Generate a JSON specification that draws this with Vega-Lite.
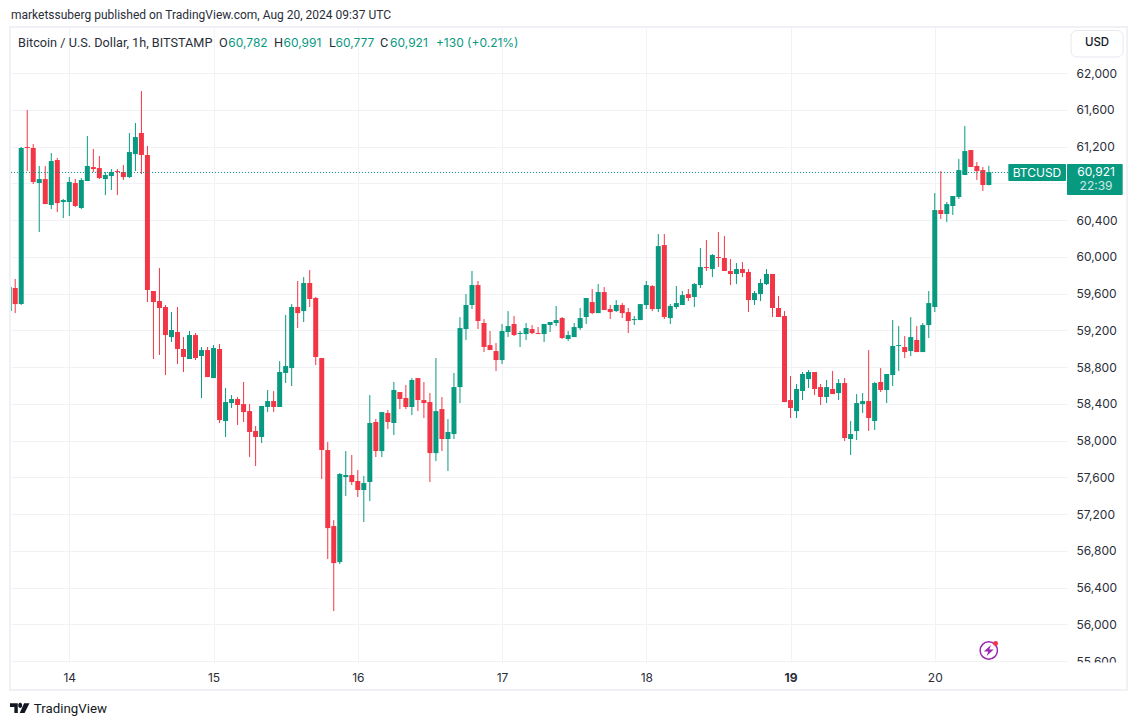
{
  "$schema": "https://vega.github.io/schema/vega-lite/v6.json",
  "width": 1056,
  "height": 634,
  "autosize": "none",
  "padding": {"left": 11, "top": 28, "right": 70, "bottom": 64},
  "background": "white",
  "title": {
    "text": "marketssuberg published on TradingView.com, Aug 20, 2024 09:37 UTC",
    "anchor": "start",
    "frame": "group",
    "offset": 4,
    "font": "Roboto",
    "fontSize": 12,
    "fontWeight": "normal",
    "color": "#2a2e39"
  },
  "config": {
    "font": "Inter",
    "view": {"stroke": null},
    "axis": {"labelFont": "Inter", "labelFontSize": 12, "labelColor": "#2a2e39", "gridColor": "#f1f2f5", "gridWidth": 1, "domain": false, "ticks": false, "title": null}
  },
  "datasets": {
    "candles": [
      {"t":"2024-08-13T14:00:00Z","o":59410,"h":59693,"l":59399,"c":59671},
      {"t":"2024-08-13T15:00:00Z","o":59661,"h":59759,"l":59388,"c":59486},
      {"t":"2024-08-13T16:00:00Z","o":59486,"h":61195,"l":59476,"c":61184},
      {"t":"2024-08-13T17:00:00Z","o":61195,"h":61597,"l":60933,"c":61184},
      {"t":"2024-08-13T18:00:00Z","o":61184,"h":61227,"l":60792,"c":60814},
      {"t":"2024-08-13T19:00:00Z","o":60803,"h":60988,"l":60270,"c":60846},
      {"t":"2024-08-13T20:00:00Z","o":60846,"h":60988,"l":60574,"c":60574},
      {"t":"2024-08-13T21:00:00Z","o":60564,"h":61129,"l":60520,"c":61042},
      {"t":"2024-08-13T22:00:00Z","o":61053,"h":61075,"l":60487,"c":60585},
      {"t":"2024-08-13T23:00:00Z","o":60596,"h":60629,"l":60422,"c":60618},
      {"t":"2024-08-14T00:00:00Z","o":60596,"h":60868,"l":60444,"c":60814},
      {"t":"2024-08-14T01:00:00Z","o":60803,"h":60846,"l":60542,"c":60553},
      {"t":"2024-08-14T02:00:00Z","o":60531,"h":60857,"l":60520,"c":60836},
      {"t":"2024-08-14T03:00:00Z","o":60825,"h":61314,"l":60825,"c":60988},
      {"t":"2024-08-14T04:00:00Z","o":60977,"h":61173,"l":60923,"c":60955},
      {"t":"2024-08-14T05:00:00Z","o":60966,"h":61097,"l":60846,"c":60857},
      {"t":"2024-08-14T06:00:00Z","o":60846,"h":60923,"l":60672,"c":60890},
      {"t":"2024-08-14T07:00:00Z","o":60879,"h":60955,"l":60727,"c":60923},
      {"t":"2024-08-14T08:00:00Z","o":60933,"h":60955,"l":60672,"c":60923},
      {"t":"2024-08-14T09:00:00Z","o":60923,"h":60999,"l":60836,"c":60868},
      {"t":"2024-08-14T10:00:00Z","o":60868,"h":61347,"l":60857,"c":61140},
      {"t":"2024-08-14T11:00:00Z","o":61118,"h":61456,"l":60933,"c":61303},
      {"t":"2024-08-14T12:00:00Z","o":61347,"h":61804,"l":60901,"c":61108},
      {"t":"2024-08-14T13:00:00Z","o":61108,"h":61206,"l":59508,"c":59639},
      {"t":"2024-08-14T14:00:00Z","o":59628,"h":59628,"l":58888,"c":59508},
      {"t":"2024-08-14T15:00:00Z","o":59519,"h":59878,"l":58932,"c":59443},
      {"t":"2024-08-14T16:00:00Z","o":59454,"h":59476,"l":58714,"c":59149},
      {"t":"2024-08-14T17:00:00Z","o":59127,"h":59399,"l":59073,"c":59204},
      {"t":"2024-08-14T18:00:00Z","o":59182,"h":59454,"l":58834,"c":58997},
      {"t":"2024-08-14T19:00:00Z","o":58997,"h":59127,"l":58747,"c":58910},
      {"t":"2024-08-14T20:00:00Z","o":58888,"h":59193,"l":58888,"c":59149},
      {"t":"2024-08-14T21:00:00Z","o":59149,"h":59171,"l":58877,"c":58899},
      {"t":"2024-08-14T22:00:00Z","o":58921,"h":59019,"l":58464,"c":58986},
      {"t":"2024-08-14T23:00:00Z","o":58986,"h":59019,"l":58692,"c":58692},
      {"t":"2024-08-15T00:00:00Z","o":58681,"h":59040,"l":58681,"c":59008},
      {"t":"2024-08-15T01:00:00Z","o":58997,"h":59051,"l":58192,"c":58224},
      {"t":"2024-08-15T02:00:00Z","o":58214,"h":58573,"l":58040,"c":58420},
      {"t":"2024-08-15T03:00:00Z","o":58409,"h":58496,"l":58355,"c":58453},
      {"t":"2024-08-15T04:00:00Z","o":58453,"h":58475,"l":58170,"c":58388},
      {"t":"2024-08-15T05:00:00Z","o":58398,"h":58638,"l":58203,"c":58311},
      {"t":"2024-08-15T06:00:00Z","o":58322,"h":58398,"l":57822,"c":58094},
      {"t":"2024-08-15T07:00:00Z","o":58105,"h":58159,"l":57724,"c":58040},
      {"t":"2024-08-15T08:00:00Z","o":58040,"h":58377,"l":57974,"c":58377},
      {"t":"2024-08-15T09:00:00Z","o":58366,"h":58551,"l":58311,"c":58431},
      {"t":"2024-08-15T10:00:00Z","o":58431,"h":58540,"l":58311,"c":58366},
      {"t":"2024-08-15T11:00:00Z","o":58366,"h":58866,"l":58366,"c":58747},
      {"t":"2024-08-15T12:00:00Z","o":58736,"h":59367,"l":58627,"c":58812},
      {"t":"2024-08-15T13:00:00Z","o":58790,"h":59486,"l":58594,"c":59454},
      {"t":"2024-08-15T14:00:00Z","o":59454,"h":59737,"l":59225,"c":59388},
      {"t":"2024-08-15T15:00:00Z","o":59410,"h":59780,"l":59291,"c":59715},
      {"t":"2024-08-15T16:00:00Z","o":59715,"h":59856,"l":59454,"c":59541},
      {"t":"2024-08-15T17:00:00Z","o":59552,"h":59563,"l":58823,"c":58910},
      {"t":"2024-08-15T18:00:00Z","o":58899,"h":58899,"l":57582,"c":57898},
      {"t":"2024-08-15T19:00:00Z","o":57898,"h":57985,"l":56712,"c":57049},
      {"t":"2024-08-15T20:00:00Z","o":57071,"h":57136,"l":56146,"c":56668},
      {"t":"2024-08-15T21:00:00Z","o":56679,"h":57648,"l":56658,"c":57637},
      {"t":"2024-08-15T22:00:00Z","o":57604,"h":57887,"l":57398,"c":57626},
      {"t":"2024-08-15T23:00:00Z","o":57626,"h":57844,"l":57517,"c":57550},
      {"t":"2024-08-16T00:00:00Z","o":57561,"h":57680,"l":57387,"c":57463},
      {"t":"2024-08-16T01:00:00Z","o":57463,"h":57615,"l":57115,"c":57539},
      {"t":"2024-08-16T02:00:00Z","o":57550,"h":58496,"l":57343,"c":58192},
      {"t":"2024-08-16T03:00:00Z","o":58203,"h":58235,"l":57822,"c":57887},
      {"t":"2024-08-16T04:00:00Z","o":57887,"h":58311,"l":57822,"c":58311},
      {"t":"2024-08-16T05:00:00Z","o":58301,"h":58333,"l":58127,"c":58203},
      {"t":"2024-08-16T06:00:00Z","o":58192,"h":58638,"l":58061,"c":58551},
      {"t":"2024-08-16T07:00:00Z","o":58529,"h":58529,"l":58344,"c":58453},
      {"t":"2024-08-16T08:00:00Z","o":58464,"h":58605,"l":58344,"c":58366},
      {"t":"2024-08-16T09:00:00Z","o":58366,"h":58681,"l":58279,"c":58660},
      {"t":"2024-08-16T10:00:00Z","o":58681,"h":58681,"l":58322,"c":58442},
      {"t":"2024-08-16T11:00:00Z","o":58442,"h":58638,"l":58246,"c":58409},
      {"t":"2024-08-16T12:00:00Z","o":58420,"h":58518,"l":57550,"c":57865},
      {"t":"2024-08-16T13:00:00Z","o":57865,"h":58899,"l":57778,"c":58322},
      {"t":"2024-08-16T14:00:00Z","o":58344,"h":58475,"l":57887,"c":58018},
      {"t":"2024-08-16T15:00:00Z","o":58018,"h":58235,"l":57670,"c":58094},
      {"t":"2024-08-16T16:00:00Z","o":58072,"h":58736,"l":58018,"c":58583},
      {"t":"2024-08-16T17:00:00Z","o":58583,"h":59345,"l":58409,"c":59225},
      {"t":"2024-08-16T18:00:00Z","o":59214,"h":59595,"l":59095,"c":59476},
      {"t":"2024-08-16T19:00:00Z","o":59476,"h":59846,"l":59432,"c":59693},
      {"t":"2024-08-16T20:00:00Z","o":59693,"h":59737,"l":59214,"c":59302},
      {"t":"2024-08-16T21:00:00Z","o":59280,"h":59323,"l":58964,"c":59019},
      {"t":"2024-08-16T22:00:00Z","o":59040,"h":59193,"l":58986,"c":58986},
      {"t":"2024-08-16T23:00:00Z","o":58975,"h":59062,"l":58758,"c":58877},
      {"t":"2024-08-17T00:00:00Z","o":58877,"h":59269,"l":58834,"c":59193},
      {"t":"2024-08-17T01:00:00Z","o":59182,"h":59410,"l":59127,"c":59247},
      {"t":"2024-08-17T02:00:00Z","o":59269,"h":59356,"l":59138,"c":59149},
      {"t":"2024-08-17T03:00:00Z","o":59160,"h":59193,"l":59019,"c":59171},
      {"t":"2024-08-17T04:00:00Z","o":59160,"h":59280,"l":59095,"c":59225},
      {"t":"2024-08-17T05:00:00Z","o":59214,"h":59258,"l":59160,"c":59171},
      {"t":"2024-08-17T06:00:00Z","o":59171,"h":59236,"l":59160,"c":59160},
      {"t":"2024-08-17T07:00:00Z","o":59160,"h":59269,"l":59073,"c":59269},
      {"t":"2024-08-17T08:00:00Z","o":59258,"h":59291,"l":59182,"c":59291},
      {"t":"2024-08-17T09:00:00Z","o":59280,"h":59465,"l":59247,"c":59312},
      {"t":"2024-08-17T10:00:00Z","o":59334,"h":59345,"l":59106,"c":59117},
      {"t":"2024-08-17T11:00:00Z","o":59106,"h":59193,"l":59084,"c":59149},
      {"t":"2024-08-17T12:00:00Z","o":59127,"h":59280,"l":59127,"c":59236},
      {"t":"2024-08-17T13:00:00Z","o":59225,"h":59443,"l":59204,"c":59334},
      {"t":"2024-08-17T14:00:00Z","o":59345,"h":59552,"l":59269,"c":59552},
      {"t":"2024-08-17T15:00:00Z","o":59508,"h":59650,"l":59378,"c":59388},
      {"t":"2024-08-17T16:00:00Z","o":59388,"h":59704,"l":59388,"c":59617},
      {"t":"2024-08-17T17:00:00Z","o":59617,"h":59671,"l":59421,"c":59421},
      {"t":"2024-08-17T18:00:00Z","o":59432,"h":59476,"l":59323,"c":59399},
      {"t":"2024-08-17T19:00:00Z","o":59410,"h":59530,"l":59399,"c":59476},
      {"t":"2024-08-17T20:00:00Z","o":59476,"h":59497,"l":59334,"c":59388},
      {"t":"2024-08-17T21:00:00Z","o":59399,"h":59443,"l":59171,"c":59302},
      {"t":"2024-08-17T22:00:00Z","o":59312,"h":59356,"l":59258,"c":59323},
      {"t":"2024-08-17T23:00:00Z","o":59312,"h":59486,"l":59312,"c":59486},
      {"t":"2024-08-18T00:00:00Z","o":59476,"h":59737,"l":59432,"c":59693},
      {"t":"2024-08-18T01:00:00Z","o":59682,"h":59693,"l":59410,"c":59432},
      {"t":"2024-08-18T02:00:00Z","o":59432,"h":60248,"l":59399,"c":60117},
      {"t":"2024-08-18T03:00:00Z","o":60128,"h":60248,"l":59323,"c":59345},
      {"t":"2024-08-18T04:00:00Z","o":59334,"h":59486,"l":59269,"c":59465},
      {"t":"2024-08-18T05:00:00Z","o":59454,"h":59682,"l":59432,"c":59497},
      {"t":"2024-08-18T06:00:00Z","o":59476,"h":59628,"l":59476,"c":59584},
      {"t":"2024-08-18T07:00:00Z","o":59595,"h":59650,"l":59519,"c":59552},
      {"t":"2024-08-18T08:00:00Z","o":59563,"h":59715,"l":59454,"c":59704},
      {"t":"2024-08-18T09:00:00Z","o":59693,"h":60096,"l":59661,"c":59889},
      {"t":"2024-08-18T10:00:00Z","o":59889,"h":60183,"l":59846,"c":59878},
      {"t":"2024-08-18T11:00:00Z","o":59867,"h":60030,"l":59780,"c":60020},
      {"t":"2024-08-18T12:00:00Z","o":59998,"h":60270,"l":59889,"c":59987},
      {"t":"2024-08-18T13:00:00Z","o":59987,"h":60226,"l":59846,"c":59846},
      {"t":"2024-08-18T14:00:00Z","o":59846,"h":59976,"l":59693,"c":59813},
      {"t":"2024-08-18T15:00:00Z","o":59813,"h":59933,"l":59704,"c":59867},
      {"t":"2024-08-18T16:00:00Z","o":59867,"h":59943,"l":59780,"c":59824},
      {"t":"2024-08-18T17:00:00Z","o":59835,"h":59867,"l":59399,"c":59530},
      {"t":"2024-08-18T18:00:00Z","o":59530,"h":59628,"l":59476,"c":59606},
      {"t":"2024-08-18T19:00:00Z","o":59595,"h":59759,"l":59519,"c":59715},
      {"t":"2024-08-18T20:00:00Z","o":59704,"h":59867,"l":59693,"c":59813},
      {"t":"2024-08-18T21:00:00Z","o":59813,"h":59813,"l":59345,"c":59443},
      {"t":"2024-08-18T22:00:00Z","o":59443,"h":59574,"l":59345,"c":59345},
      {"t":"2024-08-18T23:00:00Z","o":59356,"h":59410,"l":58420,"c":58420},
      {"t":"2024-08-19T00:00:00Z","o":58442,"h":58703,"l":58246,"c":58355},
      {"t":"2024-08-19T01:00:00Z","o":58322,"h":58616,"l":58246,"c":58562},
      {"t":"2024-08-19T02:00:00Z","o":58540,"h":58747,"l":58442,"c":58725},
      {"t":"2024-08-19T03:00:00Z","o":58670,"h":58768,"l":58573,"c":58747},
      {"t":"2024-08-19T04:00:00Z","o":58747,"h":58747,"l":58496,"c":58562},
      {"t":"2024-08-19T05:00:00Z","o":58583,"h":58616,"l":58388,"c":58475},
      {"t":"2024-08-19T06:00:00Z","o":58475,"h":58660,"l":58409,"c":58583},
      {"t":"2024-08-19T07:00:00Z","o":58562,"h":58758,"l":58507,"c":58507},
      {"t":"2024-08-19T08:00:00Z","o":58518,"h":58670,"l":58442,"c":58627},
      {"t":"2024-08-19T09:00:00Z","o":58627,"h":58681,"l":57996,"c":58029},
      {"t":"2024-08-19T10:00:00Z","o":58018,"h":58214,"l":57844,"c":58072},
      {"t":"2024-08-19T11:00:00Z","o":58105,"h":58507,"l":58007,"c":58409},
      {"t":"2024-08-19T12:00:00Z","o":58398,"h":58518,"l":58301,"c":58431},
      {"t":"2024-08-19T13:00:00Z","o":58431,"h":58986,"l":58105,"c":58246},
      {"t":"2024-08-19T14:00:00Z","o":58214,"h":58638,"l":58116,"c":58627},
      {"t":"2024-08-19T15:00:00Z","o":58638,"h":58790,"l":58529,"c":58551},
      {"t":"2024-08-19T16:00:00Z","o":58551,"h":58725,"l":58409,"c":58725},
      {"t":"2024-08-19T17:00:00Z","o":58714,"h":59312,"l":58594,"c":59030},
      {"t":"2024-08-19T18:00:00Z","o":59030,"h":59247,"l":58758,"c":59040},
      {"t":"2024-08-19T19:00:00Z","o":59019,"h":59138,"l":58899,"c":58964},
      {"t":"2024-08-19T20:00:00Z","o":58975,"h":59345,"l":58921,"c":59127},
      {"t":"2024-08-19T21:00:00Z","o":59095,"h":59247,"l":58964,"c":58964},
      {"t":"2024-08-19T22:00:00Z","o":58964,"h":59280,"l":58964,"c":59258},
      {"t":"2024-08-19T23:00:00Z","o":59258,"h":59628,"l":59117,"c":59497},
      {"t":"2024-08-20T00:00:00Z","o":59454,"h":60694,"l":59399,"c":60509},
      {"t":"2024-08-20T01:00:00Z","o":60509,"h":60933,"l":60411,"c":60466},
      {"t":"2024-08-20T02:00:00Z","o":60466,"h":60596,"l":60379,"c":60574},
      {"t":"2024-08-20T03:00:00Z","o":60553,"h":60662,"l":60455,"c":60662},
      {"t":"2024-08-20T04:00:00Z","o":60651,"h":61064,"l":60629,"c":60944},
      {"t":"2024-08-20T05:00:00Z","o":60890,"h":61423,"l":60890,"c":61151},
      {"t":"2024-08-20T06:00:00Z","o":61162,"h":61162,"l":60977,"c":60977},
      {"t":"2024-08-20T07:00:00Z","o":60988,"h":61031,"l":60836,"c":60933},
      {"t":"2024-08-20T08:00:00Z","o":60944,"h":60977,"l":60716,"c":60781},
      {"t":"2024-08-20T09:00:00Z","o":60782,"h":60991,"l":60777,"c":60921}
    ]
  },
  "encoding": {
    "x": {
      "field": "t",
      "type": "temporal",
      "scale": {"type": "utc", "domain": ["2024-08-13T14:18:00Z", "2024-08-20T22:00:00Z"], "nice": false, "padding": 0},
      "axis": {
        "orient": "bottom",
        "grid": true,
        "tickCount": {"interval": "day", "step": 1},
        "format": "%-d",
        "labelPadding": 10,
        "labelFlush": false,
        "labelOverlap": false,
        "labelFontWeight": {"condition": {"test": "utcdate(datum.value) == 19", "value": "bold"}, "value": "normal"}
      }
    }
  },
  "layer": [
    {
      "data": {"values": [{"t": "2024-08-13T14:08:00Z", "t2": "2024-08-21T08:00:00Z", "p": 62500, "p2": 55287}]},
      "mark": {"type": "rect", "fillOpacity": 0, "stroke": "#eff1f6", "strokeWidth": 2, "clip": false},
      "encoding": {
        "x2": {"field": "t2"},
        "y": {
          "field": "p",
          "type": "quantitative",
          "scale": {"domain": [55592, 62489.6], "nice": false, "zero": false},
          "axis": {
            "orient": "right",
            "grid": true,
            "tickCount": 20,
            "values": [55600, 56000, 56400, 56800, 57200, 57600, 58000, 58400, 58800, 59200, 59600, 60000, 60400, 60800, 61200, 61600, 62000],
            "format": ",.0f",
            "labelOverlap": false,
            "labelFlush": false,
            "labelPadding": 9
          }
        },
        "y2": {"field": "p2"}
      }
    },
    {
      "data": {"name": "candles"},
      "mark": {"type": "rule", "strokeWidth": 1, "clip": true},
      "encoding": {
        "y": {"field": "h", "type": "quantitative"},
        "y2": {"field": "l"},
        "color": {"condition": {"test": "datum.c >= datum.o", "value": "#089981"}, "value": "#f23645"}
      }
    },
    {
      "data": {"name": "candles"},
      "mark": {"type": "bar", "size": 5, "clip": true},
      "encoding": {
        "y": {"field": "o", "type": "quantitative"},
        "y2": {"field": "c"},
        "color": {"condition": {"test": "datum.c >= datum.o", "value": "#089981"}, "value": "#f23645"}
      }
    },
    {
      "data": {"values": [{"t": "2024-08-13T14:18:00Z", "t2": "2024-08-20T12:14:00Z", "p": 60918}]},
      "mark": {"type": "rule", "color": "#089981", "strokeWidth": 1, "strokeDash": [1, 2]},
      "encoding": {
        "x2": {"field": "t2"},
        "y": {"field": "p", "type": "quantitative"}
      }
    },
    {
      "data": {"values": [{"t": "2024-08-20T22:00:00Z", "t2": "2024-08-21T07:30:00Z", "p": 55586, "p2": 55400}]},
      "mark": {"type": "rect", "color": "white", "clip": false},
      "encoding": {
        "x2": {"field": "t2"},
        "y": {"field": "p", "type": "quantitative"},
        "y2": {"field": "p2"}
      }
    },
    {
      "data": {"values": [
        {"t": "2024-08-20T12:14:00Z", "t2": "2024-08-20T21:50:00Z", "p": 61010, "p2": 60825},
        {"t": "2024-08-20T22:00:00Z", "t2": "2024-08-21T07:16:00Z", "p": 61010, "p2": 60673}
      ]},
      "mark": {"type": "rect", "color": "#089981", "cornerRadius": 1, "clip": false},
      "encoding": {
        "x2": {"field": "t2"},
        "y": {"field": "p", "type": "quantitative"},
        "y2": {"field": "p2"}
      }
    },
    {
      "data": {"values": [{"t": "2024-08-20T22:40:00Z", "t2": "2024-08-21T07:20:00Z", "p": 62462, "p2": 62174}]},
      "mark": {"type": "rect", "fill": "white", "stroke": "#e6e8ee", "strokeWidth": 1, "cornerRadius": 6, "clip": false},
      "encoding": {
        "x2": {"field": "t2"},
        "y": {"field": "p", "type": "quantitative"},
        "y2": {"field": "p2"}
      }
    },
    {
      "data": {"values": [
        {"t": "2024-08-13T15:28:00Z", "p": 62326, "label": "Bitcoin / U.S. Dollar, 1h, BITSTAMP"},
        {"t": "2024-08-15T00:54:00Z", "p": 62326, "label": "O"},
        {"t": "2024-08-15T10:04:00Z", "p": 62326, "label": "H"},
        {"t": "2024-08-15T19:13:00Z", "p": 62326, "label": "L"},
        {"t": "2024-08-16T03:42:00Z", "p": 62326, "label": "C"}
      ]},
      "mark": {"type": "text", "align": "left", "baseline": "middle", "font": "Roboto", "fontSize": 12.7, "color": "#2a2e39", "clip": false},
      "encoding": {
        "y": {"field": "p", "type": "quantitative"},
        "text": {"field": "label"}
      }
    },
    {
      "data": {"values": [
        {"t": "2024-08-15T02:27:00Z", "p": 62326, "label": "60,782"},
        {"t": "2024-08-15T11:38:00Z", "p": 62326, "label": "60,991"},
        {"t": "2024-08-15T20:18:00Z", "p": 62326, "label": "60,777"},
        {"t": "2024-08-16T05:22:00Z", "p": 62326, "label": "60,921"},
        {"t": "2024-08-16T13:00:00Z", "p": 62326, "label": "+130 (+0.21%)"}
      ]},
      "mark": {"type": "text", "align": "left", "baseline": "middle", "fontSize": 12, "color": "#089981", "clip": false},
      "encoding": {
        "y": {"field": "p", "type": "quantitative"},
        "text": {"field": "label"}
      }
    },
    {
      "data": {"values": [{"t": "2024-08-21T03:00:00Z", "p": 62321, "label": "USD"}]},
      "mark": {"type": "text", "align": "center", "baseline": "middle", "fontSize": 11.5, "fontWeight": 500, "color": "#131722", "clip": false},
      "encoding": {
        "y": {"field": "p", "type": "quantitative"},
        "text": {"field": "label"}
      }
    },
    {
      "data": {"values": [{"t": "2024-08-13T18:06:00Z", "p": 55080, "label": "TradingView"}]},
      "mark": {"type": "text", "align": "left", "baseline": "middle", "font": "Roboto", "fontSize": 13.3, "color": "#131722", "clip": false},
      "encoding": {
        "y": {"field": "p", "type": "quantitative"},
        "text": {"field": "label"}
      }
    },
    {
      "data": {"values": [
        {"t": "2024-08-20T17:00:00Z", "p": 60917, "label": "BTCUSD"},
        {"t": "2024-08-21T02:50:00Z", "p": 60925, "label": "60,921"}
      ]},
      "mark": {"type": "text", "align": "center", "baseline": "middle", "fontSize": 12, "color": "white", "clip": false},
      "encoding": {
        "y": {"field": "p", "type": "quantitative"},
        "text": {"field": "label"}
      }
    },
    {
      "data": {"values": [{"t": "2024-08-21T02:50:00Z", "p": 60775, "label": "22:39"}]},
      "mark": {"type": "text", "align": "center", "baseline": "middle", "fontSize": 12, "color": "white", "opacity": 0.8, "clip": false},
      "encoding": {
        "y": {"field": "p", "type": "quantitative"},
        "text": {"field": "label"}
      }
    },
    {
      "data": {"values": [{"t": "2024-08-13T15:45:00Z", "p": 55091}]},
      "mark": {"type": "point", "shape": "M-1 -0.5H-0.2V0.5H-0.55V-0.1H-1ZM0.45 -0.5H1L0.5 0.5H0ZM0.24 -0.28A0.2 0.2 0 1 1 -0.14 -0.28A0.2 0.2 0 1 1 0.24 -0.28Z", "filled": true, "size": 380, "color": "#131722", "opacity": 1, "clip": false},
      "encoding": {"y": {"field": "p", "type": "quantitative"}}
    },
    {
      "data": {"values": [{"t": "2024-08-20T08:59:00Z", "p": 55717}]},
      "mark": {"type": "point", "shape": "circle", "filled": false, "size": 300, "color": "#9c27b0", "strokeWidth": 1.5, "opacity": 1, "clip": false},
      "encoding": {"y": {"field": "p", "type": "quantitative"}}
    },
    {
      "data": {"values": [{"t": "2024-08-20T08:59:00Z", "p": 55717}]},
      "mark": {"type": "point", "shape": "M0.4 -1L-0.9 0.2H-0.1L-0.4 1L0.9 -0.2H0.1Z", "filled": true, "size": 120, "color": "#9c27b0", "opacity": 1, "clip": false},
      "encoding": {"y": {"field": "p", "type": "quantitative"}}
    },
    {
      "data": {"values": [{"t": "2024-08-20T10:07:00Z", "p": 55793}]},
      "mark": {"type": "point", "shape": "circle", "filled": true, "size": 24, "color": "#f23645", "opacity": 1, "clip": false},
      "encoding": {"y": {"field": "p", "type": "quantitative"}}
    }
  ]
}
